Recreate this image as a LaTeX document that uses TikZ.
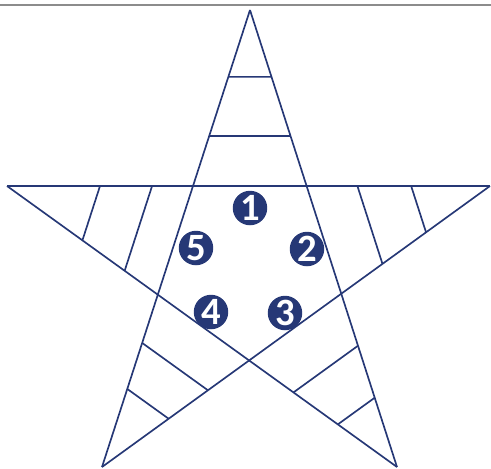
\documentclass[tikz,border=0pt]{standalone}
\usepackage{fontspec}
\setsansfont{Carlito}
\usetikzlibrary{calc}
\definecolor{starblue}{RGB}{38,56,118}
\definecolor{rulegray}{RGB}{140,140,140}

\begin{document}
\begin{tikzpicture}[x=0.02cm, y=-0.02cm,
  edge/.style={starblue, line width=0.95pt},
  num/.style={circle, fill=starblue, text=white, inner sep=0pt, minimum size=0.69cm,
    font=\sffamily\bfseries\fontsize{22}{22}\selectfont}]
  \useasboundingbox (0,0) rectangle (491,468);
  % top rule
  \coordinate (ruleL) at (0,5);
  \coordinate (ruleR) at (491,5);
  \draw[rulegray, line width=0.9pt] (ruleL) -- (ruleR);
  % star tips
  \coordinate (top) at (250,10);
  \coordinate (left) at (7,186);
  \coordinate (right) at (490,186);
  \coordinate (botleft) at (102,467);
  \coordinate (botright) at (397,467);
  % star edges
  \draw[edge] (top) -- (botleft);
  \draw[edge] (top) -- (botright);
  \draw[edge] (left) -- (right);
  \draw[edge] (left) -- (botright);
  \draw[edge] (right) -- (botleft);
  % inner pentagon corners
  \coordinate (p1) at (intersection of top--botleft and left--right);
  \coordinate (p2) at (intersection of top--botright and left--right);
  \coordinate (p3) at (intersection of top--botright and right--botleft);
  \coordinate (p4) at (intersection of left--botright and right--botleft);
  \coordinate (p5) at (intersection of top--botleft and left--botright);
  % hatching, top arm
  \draw[edge] ($(top)!0.38!(p1)$) -- ($(top)!0.38!(p2)$);
  \draw[edge] ($(top)!0.716!(p1)$) -- ($(top)!0.716!(p2)$);
  % hatching, left arm
  \draw[edge] ($(left)!0.5!(p1)$) -- ($(left)!0.5!(p5)$);
  \draw[edge] ($(left)!0.78!(p1)$) -- ($(left)!0.78!(p5)$);
  % hatching, right arm
  \draw[edge] ($(right)!0.43!(p2)$) -- ($(right)!0.43!(p3)$);
  \draw[edge] ($(right)!0.723!(p2)$) -- ($(right)!0.723!(p3)$);
  % hatching, lower left arm
  \draw[edge] ($(botleft)!0.453!(p5)$) -- ($(botleft)!0.453!(p4)$);
  \draw[edge] ($(botleft)!0.72!(p5)$) -- ($(botleft)!0.72!(p4)$);
  % hatching, lower right arm
  \draw[edge] ($(botright)!0.40!(p3)$) -- ($(botright)!0.40!(p4)$);
  \draw[edge] ($(botright)!0.70!(p3)$) -- ($(botright)!0.70!(p4)$);
  % numbers
  \node[num] (n1) at (250,208) {1};
  \node[num] (n2) at (307,249) {2};
  \node[num] (n3) at (285,313) {3};
  \node[num] (n4) at (211,312) {4};
  \node[num] (n5) at (196,248) {5};
\end{tikzpicture}
\end{document}
